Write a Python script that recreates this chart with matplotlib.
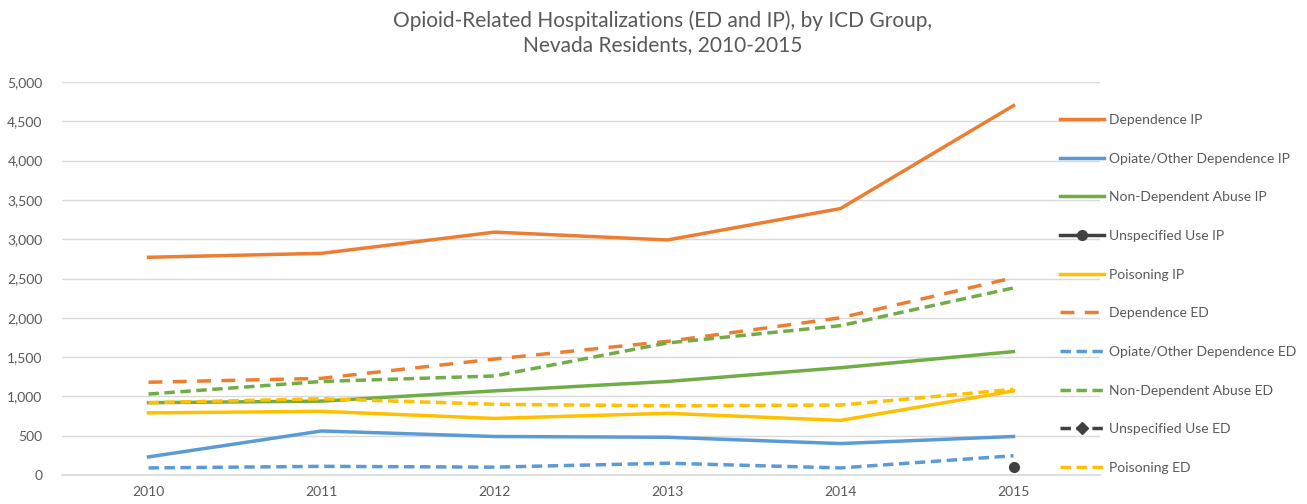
import numpy as np
import matplotlib
matplotlib.use('Agg')
import matplotlib.pyplot as plt
from matplotlib.ticker import FuncFormatter

plt.rcParams['font.family'] = ['Lato', 'DejaVu Sans']

years = [2010, 2011, 2012, 2013, 2014, 2015]
nan = np.nan

# значения по группам МКБ (IP - стационар, ED - приёмное отделение)
dependence_ip = [2770, 2820, 3090, 2990, 3390, 4700]
opiate_ip = [230, 560, 490, 480, 400, 490]
non_dep_abuse_ip = [920, 940, 1070, 1190, 1365, 1570]
unspecified_ip = [nan, nan, nan, nan, nan, 100]
poisoning_ip = [790, 810, 720, 785, 695, 1070]
dependence_ed = [1180, 1230, 1475, 1700, 2000, 2510]
opiate_ed = [90, 110, 100, 150, 90, 245]
non_dep_abuse_ed = [1030, 1190, 1260, 1680, 1900, 2380]
unspecified_ed = [nan, nan, nan, nan, nan, nan]
poisoning_ed = [920, 970, 900, 880, 890, 1090]

ORANGE = '#ED7D31'
BLUE = '#5B9BD5'
GREEN = '#70AD47'
GRAY = '#404040'
YELLOW = '#FFC000'
TEXT = '#595959'

fig = plt.figure(figsize=(13.07, 5.04), dpi=100)
ax = fig.add_axes([62 / 1307, 1 - 475 / 504, (1100 - 62) / 1307, (475 - 82) / 504])

lw = 2.5
long_dash = (4, 3)
short_dash = (3, 1.6)

ax.plot(years, dependence_ip, color=ORANGE, lw=lw, label='Dependence IP')
ax.plot(years, opiate_ip, color=BLUE, lw=lw, label='Opiate/Other Dependence IP')
ax.plot(years, non_dep_abuse_ip, color=GREEN, lw=lw, label='Non-Dependent Abuse IP')
ax.plot(years, unspecified_ip, color=GRAY, lw=lw, marker='o', markersize=7,
        label='Unspecified Use IP')
ax.plot(years, poisoning_ip, color=YELLOW, lw=lw, label='Poisoning IP')
ax.plot(years, dependence_ed, color=ORANGE, lw=lw, dashes=long_dash, label='Dependence ED')
ax.plot(years, opiate_ed, color=BLUE, lw=lw, dashes=short_dash, label='Opiate/Other Dependence ED')
ax.plot(years, non_dep_abuse_ed, color=GREEN, lw=lw, dashes=short_dash,
        label='Non-Dependent Abuse ED')
ax.plot(years, unspecified_ed, color=GRAY, lw=lw, dashes=short_dash, marker='D', markersize=6,
        label='Unspecified Use ED')
ax.plot(years, poisoning_ed, color=YELLOW, lw=lw, dashes=short_dash, label='Poisoning ED')

ax.set_xlim(2009.5, 2015.5)
ax.set_ylim(0, 5000)
ax.set_xticks(years)
ax.set_yticks(range(0, 5001, 500))
ax.yaxis.set_major_formatter(FuncFormatter(lambda v, p: f'{int(v):,}'))
ax.tick_params(length=0, colors=TEXT, labelsize=10)
ax.tick_params(axis='y', pad=14)
ax.tick_params(axis='x', pad=8)
ax.grid(axis='y', color='#D9D9D9', lw=1)
ax.set_axisbelow(True)
for side in ['top', 'right', 'left']:
    ax.spines[side].set_visible(False)
ax.spines['bottom'].set_color('#D9D9D9')
ax.spines['bottom'].set_linewidth(1.2)

fig.text(663 / 1307, 1 - 33 / 504,
         'Opioid-Related Hospitalizations (ED and IP), by ICD Group,\nNevada Residents, 2010-2015',
         ha='center', va='center', fontsize=15, color=TEXT, linespacing=1.25)

leg = fig.legend(loc='upper left', bbox_to_anchor=(1060 / 1307, 1 - 114 / 504), frameon=False,
                 fontsize=10, labelspacing=1.92, handlelength=3.2, handletextpad=0.3,
                 borderpad=0, borderaxespad=0)
for t in leg.get_texts():
    t.set_color(TEXT)

fig.savefig('out.png', dpi=100)
